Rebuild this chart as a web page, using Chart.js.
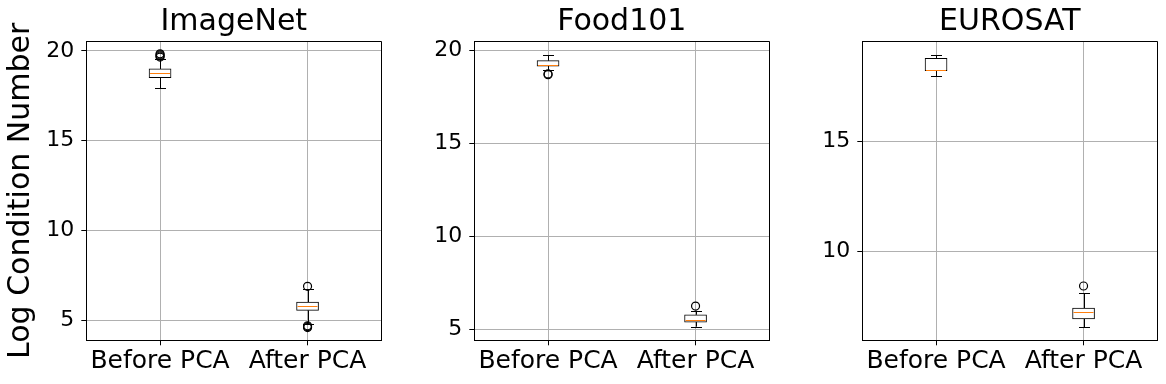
<!DOCTYPE html>
<html>
<head>
<meta charset="utf-8">
<script src="https://cdn.jsdelivr.net/npm/chart.js@4.4.1/dist/chart.umd.min.js"></script>
<style>
  html, body { margin: 0; padding: 0; background: #fff; }
  #wrap { position: relative; width: 1166px; height: 384px; }
  .panel { position: absolute; top: 0; height: 384px; }
</style>
</head>
<body>
<div id="wrap">
  <div class="panel" style="left:0;width:392px"><canvas id="chartImageNet"></canvas></div>
  <div class="panel" style="left:400px;width:380px"><canvas id="chartFood"></canvas></div>
  <div class="panel" style="left:788px;width:378px"><canvas id="chartEurosat"></canvas></div>
</div>
<script>
///////////////////////////////////////////////////////////
// DATA
const groups = ["Before PCA", "After PCA"];

// ImageNet
const imagenetQ1 = [18.51, 5.54];
const imagenetMedian = [18.76, 5.79];
const imagenetQ3 = [19.0, 6.0];
const imagenetWhiskerLow = [17.92, 4.8];
const imagenetWhiskerHigh = [19.55, 6.72];
const imagenetOutliersBefore = [19.66, 19.72, 19.78, 19.84];
const imagenetOutliersAfter = [4.58, 4.63, 4.68, 6.88];
const imagenetTicks = [5, 10, 15, 20];

// Food101
const foodQ1 = [19.14, 5.39];
const foodMedian = [19.21, 5.5];
const foodQ3 = [19.43, 5.78];
const foodWhiskerLow = [18.93, 5.14];
const foodWhiskerHigh = [19.72, 6.0];
const foodOutliersBefore = [18.68, 18.72];
const foodOutliersAfter = [6.25];
const foodTicks = [5, 10, 15, 20];

// EUROSAT
const eurosatQ1 = [18.2, 6.91];
const eurosatMedian = [18.22, 7.24];
const eurosatQ3 = [18.77, 7.4];
const eurosatWhiskerLow = [17.95, 6.53];
const eurosatWhiskerHigh = [18.9, 8.08];
const eurosatOutliersBefore = [];
const eurosatOutliersAfter = [8.41];
const eurosatTicks = [10, 15];

///////////////////////////////////////////////////////////
Chart.defaults.font.family = "'DejaVu Sans', sans-serif";
Chart.defaults.color = "#000";

const GRID = "#b0b0b0";
const MEDIAN = "#ff7f0e";
const BOX_W = 22;

// whiskers, caps, medians and the top/right spines
const boxExtras = {
  id: "boxExtras",
  beforeDatasetsDraw(chart, args, opts) {
    const { ctx } = chart;
    const x = chart.scales.x;
    const y = chart.scales.y;
    ctx.save();
    ctx.strokeStyle = "#000";
    ctx.lineWidth = 1;
    opts.low.forEach((lo, i) => {
      const cx = Math.round(x.getPixelForValue(i)) + 0.5;
      const segs = [
        [lo, opts.q1[i]],
        [opts.q3[i], opts.high[i]],
      ];
      ctx.beginPath();
      segs.forEach(([a, b]) => {
        ctx.moveTo(cx, y.getPixelForValue(a));
        ctx.lineTo(cx, y.getPixelForValue(b));
      });
      [lo, opts.high[i]].forEach((v) => {
        const py = Math.round(y.getPixelForValue(v)) + 0.5;
        ctx.moveTo(cx - BOX_W / 4, py);
        ctx.lineTo(cx + BOX_W / 4, py);
      });
      ctx.stroke();
    });
    ctx.restore();
  },
  afterDatasetsDraw(chart, args, opts) {
    const { ctx, chartArea } = chart;
    const x = chart.scales.x;
    const y = chart.scales.y;
    ctx.save();
    ctx.strokeStyle = MEDIAN;
    ctx.lineWidth = 1;
    opts.median.forEach((m, i) => {
      const cx = x.getPixelForValue(i);
      const py = Math.round(y.getPixelForValue(m)) + 0.5;
      ctx.beginPath();
      ctx.moveTo(cx - BOX_W / 2 + 1, py);
      ctx.lineTo(cx + BOX_W / 2 - 1, py);
      ctx.stroke();
    });
    ctx.strokeStyle = "#000";
    ctx.beginPath();
    ctx.moveTo(chartArea.left, Math.round(chartArea.top) + 0.5);
    ctx.lineTo(chartArea.right, Math.round(chartArea.top) + 0.5);
    ctx.moveTo(Math.round(chartArea.right) + 0.5, chartArea.top);
    ctx.lineTo(Math.round(chartArea.right) + 0.5, chartArea.bottom);
    ctx.stroke();
    ctx.restore();
  },
};

function makePanel(canvasId, titleText, stats, yMin, yMax, yTicks, yWidth, padRight, yTitle) {
  const outlierPoints = [];
  stats.outBefore.forEach((v) => outlierPoints.push({ x: groups[0], y: v }));
  stats.outAfter.forEach((v) => outlierPoints.push({ x: groups[1], y: v }));

  return new Chart(document.getElementById(canvasId), {
    type: "bar",
    data: {
      labels: groups,
      datasets: [
        {
          type: "bar",
          data: stats.q1.map((v, i) => [v, stats.q3[i]]),
          backgroundColor: "#fff",
          borderColor: "#000",
          borderWidth: 1,
          borderSkipped: false,
          barThickness: BOX_W,
          order: 2,
        },
        {
          type: "line",
          data: outlierPoints,
          showLine: false,
          pointRadius: 4,
          pointBorderWidth: 1.2,
          pointBackgroundColor: "rgba(0,0,0,0)",
          pointBorderColor: "#000",
          order: 1,
        },
      ],
    },
    options: {
      responsive: true,
      maintainAspectRatio: false,
      animation: false,
      events: [],
      layout: { padding: { left: 0, right: padRight, top: 0, bottom: 0 } },
      scales: {
        x: {
          type: "category",
          offset: true,
          grid: { offset: false, color: GRID, lineWidth: 1, tickColor: "#000", tickLength: 5, tickWidth: 1 },
          border: { color: "#000", width: 1 },
          ticks: { font: { size: 25 }, color: "#000", padding: 1, maxRotation: 0, autoSkip: false },
          afterFit: (s) => { s.height = 43.7; },
        },
        y: {
          type: "linear",
          min: yMin,
          max: yMax,
          afterBuildTicks: (s) => { s.ticks = yTicks.map((v) => ({ value: v })); },
          grid: { color: GRID, lineWidth: 1, tickColor: "#000", tickLength: 5, tickWidth: 1 },
          border: { color: "#000", width: 1 },
          ticks: { font: { size: 22 }, color: "#000", padding: 7 },
          title: {
            display: !!yTitle,
            text: yTitle || "",
            font: { size: 30 },
            color: "#000",
            padding: { top: 3.6, bottom: 0 },
          },
          afterFit: (s) => { s.width = yWidth; },
        },
      },
      plugins: {
        legend: { display: false },
        tooltip: { enabled: false },
        title: {
          display: true,
          text: titleText,
          fullSize: false,
          font: { size: 30, weight: "normal" },
          color: "#000",
          padding: { top: 4, bottom: 1.3 },
        },
        boxExtras: {
          q1: stats.q1,
          q3: stats.q3,
          median: stats.median,
          low: stats.low,
          high: stats.high,
        },
      },
    },
    plugins: [boxExtras],
  });
}

document.addEventListener("DOMContentLoaded", () => {
  makePanel("chartImageNet", "ImageNet", {
    q1: imagenetQ1, q3: imagenetQ3, median: imagenetMedian,
    low: imagenetWhiskerLow, high: imagenetWhiskerHigh,
    outBefore: imagenetOutliersBefore, outAfter: imagenetOutliersAfter,
  }, 3.87, 20.54, imagenetTicks, 86.3, 10.7, "Log Condition Number");

  makePanel("chartFood", "Food101", {
    q1: foodQ1, q3: foodQ3, median: foodMedian,
    low: foodWhiskerLow, high: foodWhiskerHigh,
    outBefore: foodOutliersBefore, outAfter: foodOutliersAfter,
  }, 4.41, 20.47, foodTicks, 74.3, 10.7, null);

  makePanel("chartEurosat", "EUROSAT", {
    q1: eurosatQ1, q3: eurosatQ3, median: eurosatMedian,
    low: eurosatWhiskerLow, high: eurosatWhiskerHigh,
    outBefore: eurosatOutliersBefore, outAfter: eurosatOutliersAfter,
  }, 5.94, 19.54, eurosatTicks, 74.3, 8.7, null);
});
</script>
</body>
</html>
